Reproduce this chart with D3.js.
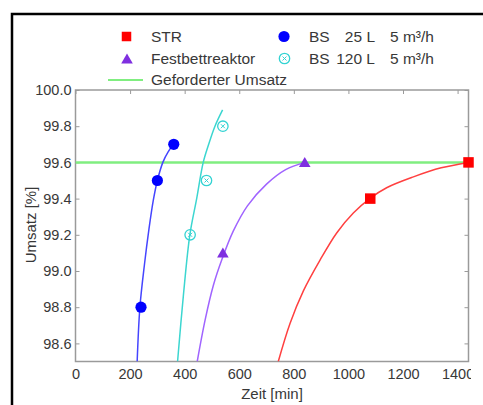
<!DOCTYPE html>
<html><head><meta charset="utf-8">
<script src="https://cdn.jsdelivr.net/npm/d3@7"></script>
<style>
html,body{margin:0;padding:0;background:#fff;}
svg{display:block;font-family:"Liberation Sans",Arial,sans-serif;}
</style></head>
<body>
<svg id="chart" width="483" height="405"></svg>
<script>
// ---- data ----
const xTicks = [0, 200, 400, 600, 800, 1000, 1200, 1400];
const yTicks = [98.6, 98.8, 99.0, 99.2, 99.4, 99.6, 99.8, 100.0];
const targetConversion = 99.6;

const strPoints = [[1080, 99.4], [1440, 99.6]];
const festPoints = [[540, 99.1], [840, 99.6]];
const bs25Points = [[240, 98.8], [300, 99.5], [360, 99.7]];
const bs120Points = [[420, 99.2], [480, 99.5], [540, 99.8]];

const strCurve = [[743, 98.5], [786, 98.71], [835, 98.89], [896, 99.06], [957, 99.21], [1018, 99.32], [1078, 99.40], [1140, 99.46], [1238, 99.52], [1340, 99.57], [1440, 99.6]];
const festCurve = [[446, 98.5], [475, 98.73], [505, 98.92], [538, 99.07], [578, 99.22], [630, 99.36], [700, 99.48], [770, 99.56], [840, 99.6]];
const bs25Curve = [[226, 98.5], [236, 98.8], [253, 99.04], [269, 99.23], [285, 99.39], [300, 99.5], [320, 99.6], [340, 99.66], [360, 99.7]];
const bs120Curve = [[374, 98.5], [395, 98.86], [419, 99.2], [444, 99.4], [468, 99.6], [488, 99.7], [511, 99.8], [539, 99.89]];

// ---- layout ----
const svg = d3.select("#chart");
const L = 75.5, R = 468.5, T = 90, B = 361.5;
const x = d3.scaleLinear().domain([0, 1440]).range([L, R]);
const y = d3.scaleLinear().domain([98.5, 100]).range([B, T]);

const axisColor = "#9a9a9a";
const textColor = "#383838";
const col = {str: "#ff0000", strLine: "#ff4040", fest: "#7f2fe0", festLine: "#a064ff",
             bs25: "#0000ff", bs25Line: "#4545ff", bs120: "#33d3d3", bs120Line: "#3cd6d0", green: "#80ee80"};

// outer frame
svg.append("rect").attr("x", 12).attr("y", 14).attr("width", 490).attr("height", 420)
  .attr("fill", "none").attr("stroke", "#000").attr("stroke-width", 2.5);

svg.append("defs").append("clipPath").attr("id", "plotclip")
  .append("rect").attr("x", L).attr("y", T).attr("width", R - L).attr("height", B - T);
svg.select("defs").append("clipPath").attr("id", "labclip")
  .append("rect").attr("x", 0).attr("y", 0).attr("width", 471).attr("height", 405);

// axes with inward ticks
const fmtY = d3.format(".1f");
const gB = svg.append("g").attr("transform", `translate(0,${B})`)
  .call(d3.axisBottom(x).tickValues(xTicks).tickSizeInner(-4).tickSizeOuter(0).tickPadding(10).tickFormat(d3.format("d")));
const gT = svg.append("g").attr("transform", `translate(0,${T})`)
  .call(d3.axisTop(x).tickValues(xTicks).tickSizeInner(-4).tickSizeOuter(0).tickFormat(""));
const gL = svg.append("g").attr("transform", `translate(${L},0)`)
  .call(d3.axisLeft(y).tickValues(yTicks).tickSizeInner(-4).tickSizeOuter(0).tickPadding(8).tickFormat(fmtY));
const gR = svg.append("g").attr("transform", `translate(${R},0)`)
  .call(d3.axisRight(y).tickValues(yTicks).tickSizeInner(-4).tickSizeOuter(0).tickFormat(""));
[gB, gT, gL, gR].forEach(g => {
  g.select(".domain").remove();
  g.selectAll(".tick line").attr("stroke", axisColor).attr("stroke-width", 1);
  g.selectAll("text").attr("fill", textColor).style("font-size", "14.5px")
    .style("font-family", '"Liberation Sans",Arial,sans-serif');
});
gB.attr("clip-path", "url(#labclip)");
gB.selectAll("text").attr("dy", "0.71em").attr("y", 7);
gL.selectAll("text").attr("x", -4);

svg.append("rect").attr("x", L).attr("y", T).attr("width", R - L).attr("height", B - T)
  .attr("fill", "none").attr("stroke", axisColor).attr("stroke-width", 1.5);

// axis titles
svg.append("text").attr("x", 272).attr("y", 399).attr("text-anchor", "middle")
  .attr("fill", textColor).style("font-size", "15px").text("Zeit [min]");
svg.append("text").attr("transform", "translate(36,225) rotate(-90)").attr("text-anchor", "middle")
  .attr("fill", textColor).style("font-size", "15px").text("Umsatz [%]");

// plot content
const plot = svg.append("g").attr("clip-path", "url(#plotclip)");
plot.append("line").attr("x1", x(0)).attr("x2", x(1440)).attr("y1", y(targetConversion)).attr("y2", y(targetConversion))
  .attr("stroke", col.green).attr("stroke-width", 2.5);

const line = d3.line().x(d => x(d[0])).y(d => y(d[1])).curve(d3.curveCatmullRom.alpha(0.5));
[[strCurve, col.strLine], [festCurve, col.festLine], [bs25Curve, col.bs25Line], [bs120Curve, col.bs120Line]]
  .forEach(([c, k]) => plot.append("path").datum(c).attr("d", line).attr("fill", "none")
    .attr("stroke", k).attr("stroke-width", 1.5));

const marks = svg.append("g");
function square(g, cx, cy, s, c) { g.append("rect").attr("x", cx - s / 2).attr("y", cy - s / 2).attr("width", s).attr("height", s).attr("fill", c); }
function tri(g, cx, cy, c) { g.append("path").attr("d", `M${cx - 5.8},${cy + 4.5}L${cx + 5.8},${cy + 4.5}L${cx},${cy - 5.5}Z`).attr("fill", c); }
function dot(g, cx, cy, c) { g.append("circle").attr("cx", cx).attr("cy", cy).attr("r", 5.6).attr("fill", c); }
function ox(g, cx, cy, c) {
  g.append("circle").attr("cx", cx).attr("cy", cy).attr("r", 5.2).attr("fill", "none").attr("stroke", c).attr("stroke-width", 1.3);
  g.append("path").attr("d", `M${cx - 2},${cy - 2}L${cx + 2},${cy + 2}M${cx - 2},${cy + 2}L${cx + 2},${cy - 2}`)
    .attr("stroke", c).attr("stroke-width", 1);
}
strPoints.forEach(d => square(marks, x(d[0]), y(d[1]), 10.5, col.str));
festPoints.forEach(d => tri(marks, x(d[0]), y(d[1]), col.fest));
bs25Points.forEach(d => dot(marks, x(d[0]), y(d[1]), col.bs25));
bs120Points.forEach(d => ox(marks, x(d[0]), y(d[1]), col.bs120));

// legend
const lg = svg.append("g").style("font-size", "15.5px").attr("fill", textColor);
square(lg, 126.5, 36.5, 9.5, col.str);
tri(lg, 127, 59, col.fest);
lg.append("line").attr("x1", 108).attr("x2", 143).attr("y1", 80).attr("y2", 80).attr("stroke", col.green).attr("stroke-width", 2);
dot(lg, 284, 36.5, col.bs25);
ox(lg, 284.5, 58.5, col.bs120);
const lt = (tx, ty, s, anchor) => lg.append("text").attr("x", tx).attr("y", ty).attr("text-anchor", anchor || "start").text(s);
lt(151, 42, "STR");
lt(151, 64, "Festbettreaktor");
lt(151, 85, "Geforderter Umsatz");
lt(309, 42, "BS"); lt(375, 42, "25 L", "end"); lt(390, 42, "5 m³/h");
lt(309, 64, "BS"); lt(375, 64, "120 L", "end"); lt(390, 64, "5 m³/h");
</script>
</body></html>
